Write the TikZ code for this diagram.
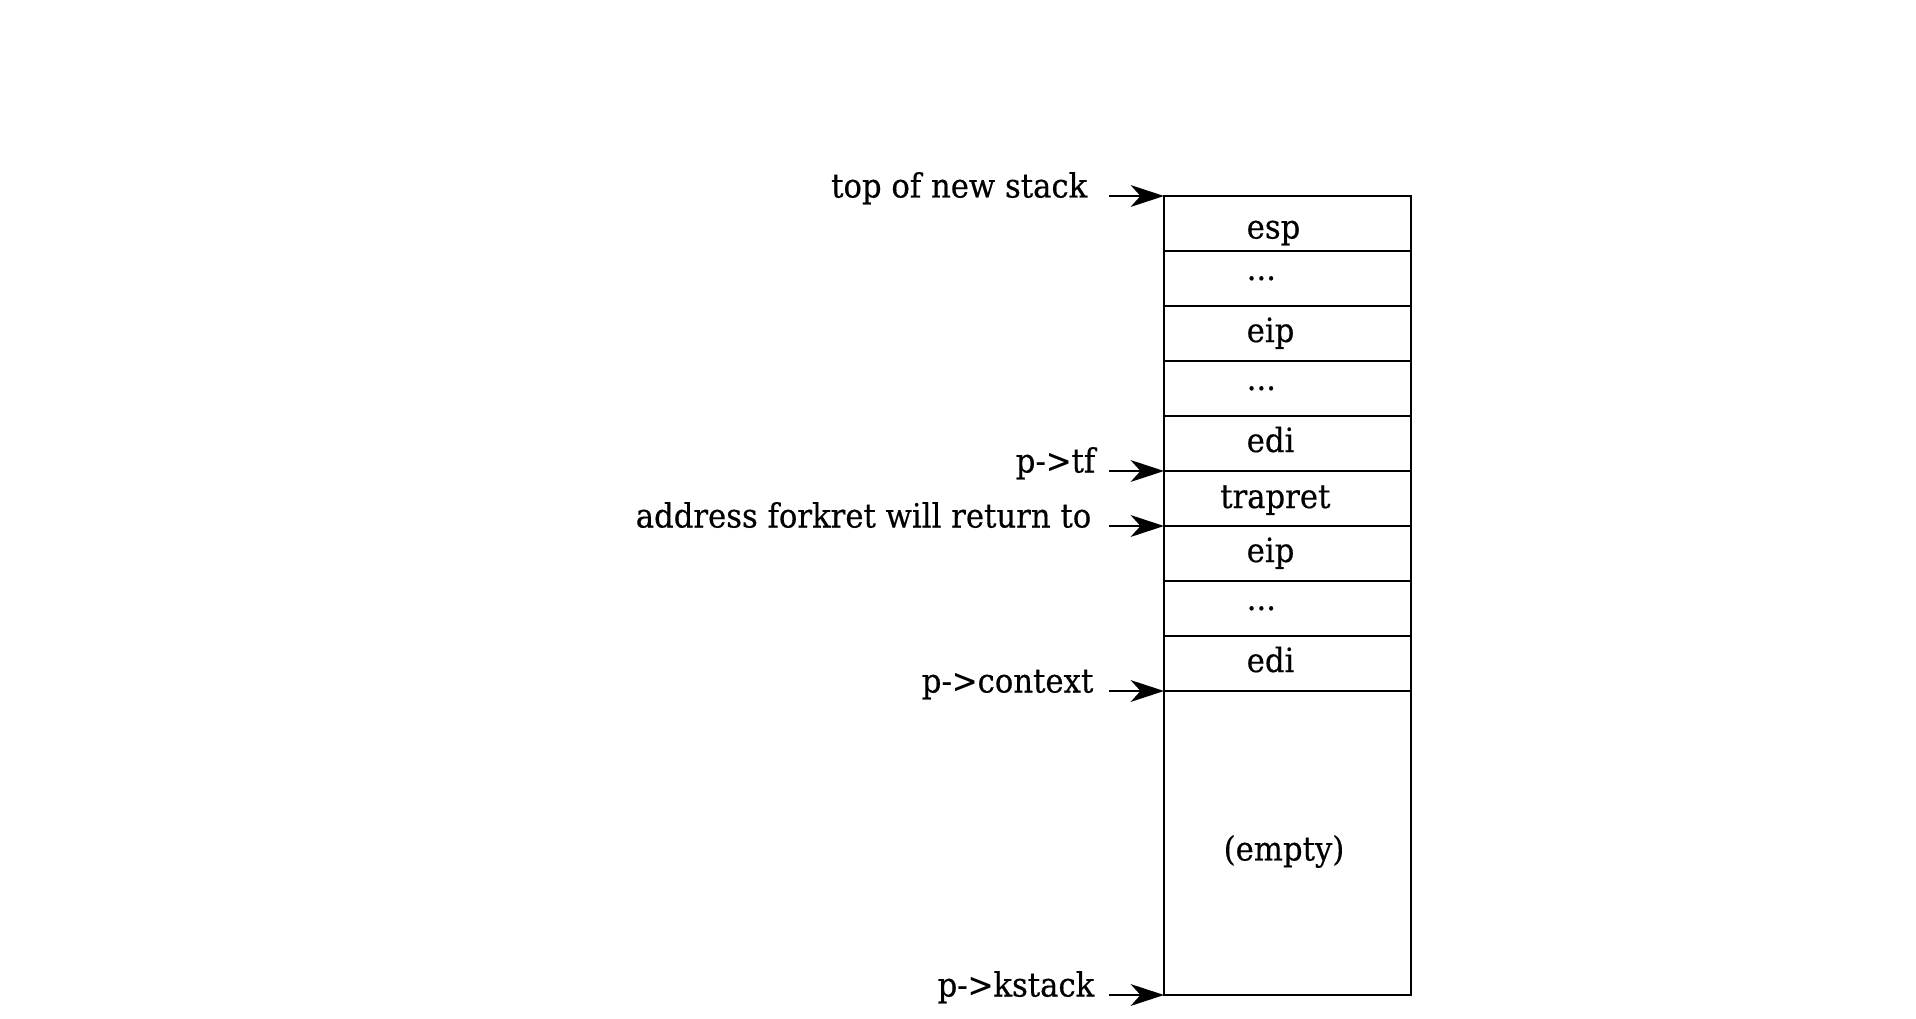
\documentclass[tikz,border=0pt]{standalone}
\usepackage{fontspec}
\setmainfont{DejaVu Serif}[FakeStretch=0.92, FakeBold=0.4]
\usetikzlibrary{arrows.meta, positioning}
\newcommand{\stkdots}{...}

\begin{document}
\begin{tikzpicture}[>={Stealth[length=9.5pt, width=6.2pt, inset=2.8pt]}, node distance=0pt, font=\fontsize{9.5}{11}\selectfont,
  cell/.style={draw, line width=0.3pt, minimum width=2.47cm, minimum height=0.55cm, inner sep=0pt, outer sep=0pt},
  txt/.style={anchor=base west, inner sep=0pt},
  ptr/.style={->, line width=0.5pt},
  lbl/.style={anchor=base east, inner sep=0pt}]
\useasboundingbox (0,0) rectangle (19.16,10.18);
% stack cells
\node[cell, anchor=north west] (c1) at (11.64,8.22) {};
\foreach \i [count=\j] in {2,...,9}
  \node[cell, below=of c\j] (c\i) {};
\node[cell, below=of c9, minimum height=3.04cm] (empty) {};
% outer frame
\draw[line width=0.7pt] (c1.north east) -- (c1.north west) -- (empty.south west) -- (empty.south east);
% contents
\foreach \i/\t/\dy in {1/esp/0.425, 2/\stkdots/0.29, 3/eip/0.36, 4/\stkdots/0.29, 5/edi/0.36, 7/eip/0.36, 8/\stkdots/0.29, 9/edi/0.36}
  \node[txt] (v\i) at ([xshift=0.82cm, yshift=-\dy cm]c\i.north west) {\t};
\node[txt] (v6) at ([xshift=0.555cm, yshift=-0.37cm]c6.north west) {trapret};
\node (vempty) at ([xshift=-0.035cm, yshift=-0.085cm]empty.center) {(empty)};
% pointers
\coordinate (pTop) at ([xshift=-0.55cm]c1.north west);
\coordinate (pTf) at ([xshift=-0.55cm]c6.north west);
\coordinate (pRet) at ([xshift=-0.55cm]c7.north west);
\coordinate (pCtx) at ([xshift=-0.55cm]empty.north west);
\coordinate (pStk) at ([xshift=-0.55cm]empty.south west);
\draw[ptr] (pTop) -- (c1.north west);
\draw[ptr] (pTf) -- (c6.north west);
\draw[ptr] (pRet) -- (c7.north west);
\draw[ptr] (pCtx) -- (empty.north west);
\draw[ptr] (pStk) -- (empty.south west);
\node[lbl] (lTop) at ([xshift=-0.21cm, yshift=-0.015cm]pTop) {top of new stack};
\node[lbl] (lTf) at ([xshift=-0.13cm, yshift=-0.015cm]pTf) {p->tf};
\node[lbl] (lRet) at ([xshift=-0.17cm, yshift=-0.015cm]pRet) {address forkret will return to};
\node[lbl] (lCtx) at ([xshift=-0.15cm, yshift=-0.015cm]pCtx) {p->context};
\node[lbl] (lStk) at ([xshift=-0.14cm, yshift=-0.015cm]pStk) {p->kstack};
\end{tikzpicture}
\end{document}
